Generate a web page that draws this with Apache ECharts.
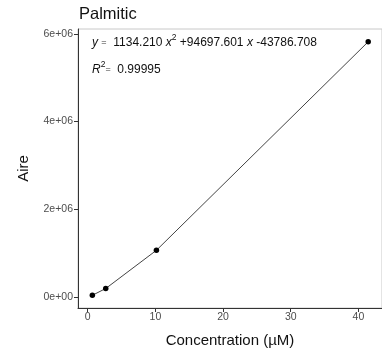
<!DOCTYPE html>
<html><head><meta charset="utf-8">
<script src="https://cdn.jsdelivr.net/npm/echarts@6/dist/echarts.min.js"></script>
<style>html,body{margin:0;padding:0;background:#fff}#c{width:382px;height:353px}</style>
</head><body><div id="c"></div>
<script>
const concentration = [0.68, 2.66, 10.15, 41.45];
const aire = [35000, 190000, 1062000, 5820000];
const xTicks = [0, 10, 20, 30, 40];
const yTicks = [0, 2000000, 4000000, 6000000];
const yTickLabels = ['0e+00', '2e+06', '4e+06', '6e+06'];
const titleText = 'Palmitic';
const xName = 'Concentration (\u00b5M)';
const yName = 'Aire';

const FONT = '"Liberation Sans", Arial, sans-serif';
const richStyles = {
  n: {fontSize: 12, fontFamily: FONT, color: '#111', lineHeight: 20},
  i: {fontStyle: 'italic', fontSize: 12, fontFamily: FONT, color: '#111', lineHeight: 20},
  s: {fontSize: 9, fontFamily: FONT, color: '#333', lineHeight: 20},
  sup: {fontSize: 8.5, fontFamily: FONT, color: '#111', verticalAlign: 'top', lineHeight: 10}
};
const chart = echarts.init(document.getElementById('c'));
chart.setOption({
  backgroundColor: '#fff',
  animation: false,
  title: [
    {text: titleText, left: 79, top: 6, padding: 0, textStyle: {fontFamily: FONT, fontSize: 16.5, fontWeight: 'normal', color: '#111'}},
    {text: '{i|y} {s|=}  {n|1134.210} {i|x}{sup|2}{n| +94697.601} {i|x}{n| -43786.708}', left: 92, top: 33, padding: 0,
     textStyle: {fontFamily: FONT, fontSize: 12, lineHeight: 20, fontWeight: 'normal', color: '#111', rich: richStyles}},
    {text: '{i|R}{sup|2}{s|=}  {n|0.99995}', left: 92, top: 60, padding: 0,
     textStyle: {fontFamily: FONT, fontSize: 12, lineHeight: 20, fontWeight: 'normal', color: '#111', rich: richStyles}}
  ],
  grid: {left: 78, right: 0, top: 29, bottom: 40, show: true, borderColor: '#c8c8c8', borderWidth: 1, backgroundColor: '#fff'},
  xAxis: {
    type: 'value', min: -1.44, max: 43.49,
    name: xName, nameLocation: 'middle', nameGap: 25,
    nameTextStyle: {fontFamily: FONT, fontSize: 15, color: '#111'},
    axisLine: {show: true, onZero: false, lineStyle: {color: '#333', width: 1}},
    axisTick: {show: true, length: 4, lineStyle: {color: '#333'}, customValues: xTicks},
    axisLabel: {fontFamily: FONT, fontSize: 10.5, color: '#4d4d4d', margin: 4, customValues: xTicks},
    splitLine: {show: false}
  },
  yAxis: {
    type: 'value', min: -255000, max: 6112000,
    name: yName, nameLocation: 'middle', nameGap: 47, nameRotate: 90,
    nameTextStyle: {fontFamily: FONT, fontSize: 15, color: '#111'},
    axisLine: {show: true, onZero: false, lineStyle: {color: '#333', width: 1}},
    axisTick: {show: true, length: 4, lineStyle: {color: '#333'}, customValues: yTicks},
    axisLabel: {fontFamily: FONT, fontSize: 10.5, color: '#4d4d4d', margin: 5, customValues: yTicks,
      formatter: function (v) { const i = yTicks.indexOf(v); return i >= 0 ? yTickLabels[i] : ''; }},
    splitLine: {show: false}
  },
  series: [{
    type: 'line',
    data: concentration.map((x, i) => [x, aire[i]]),
    symbol: 'circle', symbolSize: 5.5,
    itemStyle: {color: '#000'},
    lineStyle: {color: '#444', width: 1},
    clip: false
  }]
});
</script></body></html>
